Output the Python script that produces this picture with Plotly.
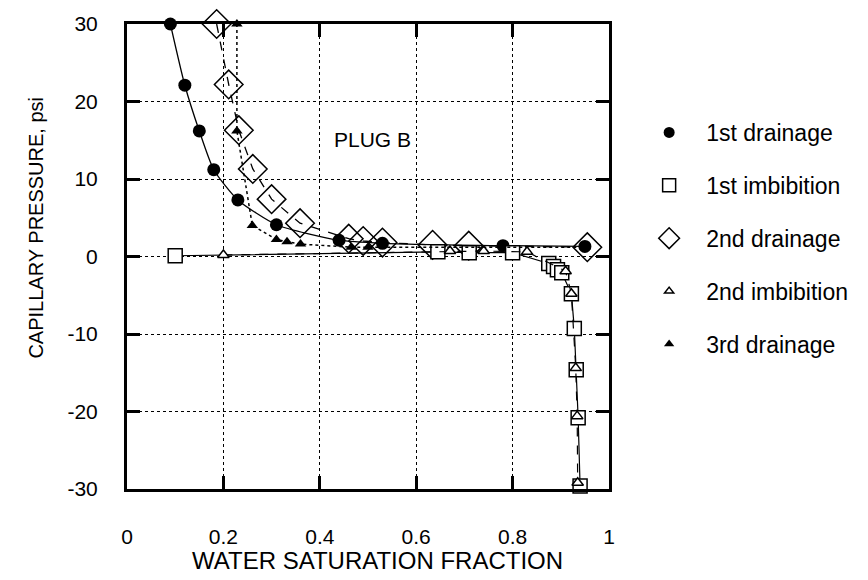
import plotly.graph_objects as go

# ---- data (water saturation fraction, capillary pressure psi) ----
d1_sw = [0.09, 0.12, 0.15, 0.18, 0.23, 0.31, 0.44, 0.53, 0.78, 0.95]
d1_pc = [30.0, 22.1, 16.2, 11.2, 7.3, 4.1, 2.1, 1.7, 1.4, 1.3]

i1_sw = [0.10, 0.645, 0.71, 0.80, 0.875, 0.885, 0.893, 0.902, 0.922, 0.928, 0.932, 0.936, 0.94]
i1_pc = [0.1, 0.6, 0.5, 0.5, -0.9, -1.3, -1.7, -2.1, -4.8, -9.3, -14.6, -20.8, -29.6]

d2_sw = [0.186, 0.211, 0.232, 0.261, 0.30, 0.359, 0.46, 0.49, 0.53, 0.634, 0.709, 0.955]
d2_pc = [30.0, 22.2, 16.3, 11.3, 7.4, 4.3, 2.3, 2.0, 1.8, 1.5, 1.4, 1.2]

i2_sw = [0.20, 0.67, 0.74, 0.83, 0.91, 0.922, 0.931, 0.934, 0.935]
i2_pc = [0.2, 0.7, 0.7, 0.6, -1.9, -4.8, -14.4, -20.6, -29.2]

d3_sw = [0.228, 0.228, 0.26, 0.31, 0.332, 0.36, 0.465, 0.50, 0.95]
d3_pc = [30.0, 16.2, 4.0, 2.2, 1.9, 1.6, 1.2, 1.2, 1.2]

series_names = ["1st drainage", "1st imbibition", "2nd drainage", "2nd imbibition", "3rd drainage"]

x_tickvals = [0, 0.2, 0.4, 0.6, 0.8, 1]
x_ticktext = ["0", "0.2", "0.4", "0.6", "0.8", "1"]
y_tickvals = [-30, -20, -10, 0, 10, 20, 30]
y_ticktext = ["-30", "-20", "-10", "0", "10", "20", "30"]

FONT = "Liberation Sans, Arial, Helvetica, sans-serif"
BLK = "black"

fig = go.Figure()

# 1st drainage - solid curve, filled circles
fig.add_trace(go.Scatter(x=d1_sw, y=d1_pc, mode="lines+markers", showlegend=False, cliponaxis=False,
                         line=dict(color=BLK, width=1.3, shape="spline", smoothing=0.6),
                         marker=dict(symbol="circle", size=13, color=BLK)))
# 2nd drainage - dashed, open diamonds
fig.add_trace(go.Scatter(x=d2_sw, y=d2_pc, mode="lines+markers", showlegend=False, cliponaxis=False,
                         line=dict(color=BLK, width=1.3, dash="dash"),
                         marker=dict(symbol="diamond-open", size=22, color=BLK, line=dict(width=1.5))))
# 1st imbibition - solid, open squares
fig.add_trace(go.Scatter(x=i1_sw, y=i1_pc, mode="lines+markers", showlegend=False, cliponaxis=False,
                         line=dict(color=BLK, width=1.2),
                         marker=dict(symbol="square", size=14, color="white", line=dict(color=BLK, width=1.5))))
# 2nd imbibition - dashed, open small triangles
fig.add_trace(go.Scatter(x=i2_sw, y=i2_pc, mode="lines+markers", showlegend=False, cliponaxis=False,
                         line=dict(color=BLK, width=1.2, dash="dash"),
                         marker=dict(symbol="triangle-up", size=10, color="white", line=dict(color=BLK, width=1.5))))
# 3rd drainage - dotted, filled triangles
fig.add_trace(go.Scatter(x=d3_sw, y=d3_pc, mode="lines+markers", showlegend=False, cliponaxis=False,
                         line=dict(color=BLK, width=1.5, dash="dot"),
                         marker=dict(symbol="triangle-up", size=10, color=BLK)))

# legend entries
leg_styles = [
    dict(symbol="circle", size=11, color=BLK),
    dict(symbol="square-open", size=13, color=BLK, line=dict(width=1.5)),
    dict(symbol="diamond-open", size=16, color=BLK, line=dict(width=1.5)),
    dict(symbol="triangle-up-open", size=8, color=BLK, line=dict(width=1.5)),
    dict(symbol="triangle-up", size=9, color=BLK),
]
for name, mk in zip(series_names, leg_styles):
    fig.add_trace(go.Scatter(x=[None], y=[None], mode="markers", name=name,
                             legendgroup=name, marker=mk))

fig.add_annotation(x=0.51, y=15.1, xref="x", yref="y", text="PLUG B", showarrow=False,
                   font=dict(family=FONT, size=21, color=BLK))
fig.add_annotation(x=0.52, y=-0.154, xref="paper", yref="paper", text="WATER SATURATION FRACTION",
                   showarrow=False, xanchor="center", yanchor="middle",
                   font=dict(family=FONT, size=24, color=BLK))
fig.add_annotation(x=-0.189, y=0.562, xref="paper", yref="paper", text="CAPILLARY PRESSURE, psi",
                   showarrow=False, textangle=-90, xanchor="center", yanchor="middle",
                   font=dict(family=FONT, size=20, color=BLK))

axis_common = dict(showline=True, linecolor=BLK, linewidth=3, mirror="ticks",
                   ticks="inside", ticklen=13, tickwidth=3, tickcolor=BLK,
                   showgrid=True, gridcolor=BLK, gridwidth=1, griddash="dot",
                   zeroline=False, tickfont=dict(family=FONT, size=21, color=BLK))

fig.update_xaxes(range=[0, 1], tickvals=x_tickvals, ticktext=x_ticktext,
                 ticklabelstandoff=27, **axis_common)
fig.update_yaxes(range=[-30, 30], tickvals=y_tickvals, ticktext=y_ticktext,
                 ticklabelstandoff=22, **axis_common)

fig.update_layout(
    width=868, height=580,
    margin=dict(l=127, r=259, t=14, b=91),
    paper_bgcolor="white", plot_bgcolor="white",
    font=dict(family=FONT, color=BLK),
    showlegend=True,
    legend=dict(x=1.048, xanchor="left", y=0.813, yanchor="top",
                font=dict(family=FONT, size=23, color=BLK),
                itemwidth=64, tracegroupgap=20, bgcolor="rgba(0,0,0,0)"),
)

fig.write_html("out.html")
